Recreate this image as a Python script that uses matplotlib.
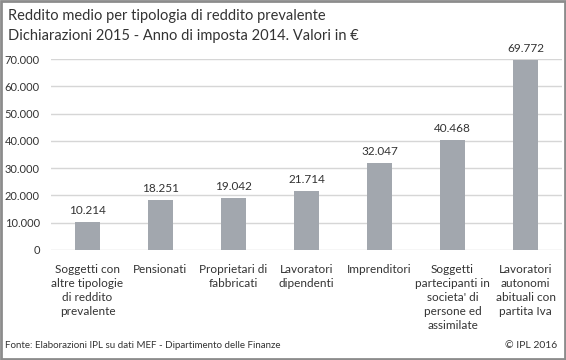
import matplotlib.pyplot as plt
from matplotlib.patches import Rectangle

categorie = [
    "Soggetti con\naltre tipologie\ndi reddito\nprevalente",
    "Pensionati",
    "Proprietari di\nfabbricati",
    "Lavoratori\ndipendenti",
    "Imprenditori",
    "Soggetti\npartecipanti in\nsocieta' di\npersone ed\nassimilate",
    "Lavoratori\nautonomi\nabituali con\npartita Iva",
]
valori = [10214, 18251, 19042, 21714, 32047, 40468, 69772]
yticks = [0, 10000, 20000, 30000, 40000, 50000, 60000, 70000]

plt.rcParams['font.family'] = ['Lato', 'DejaVu Sans']
testo = '#333333'

fig = plt.figure(figsize=(5.66, 3.6), dpi=100)
ax = fig.add_axes([51 / 566, 1 - 250 / 360, 511 / 566, (250 - 59) / 360])

x = range(len(valori))
ax.bar(x, valori, width=0.34, color='#a2a7ae', zorder=2)
for i, v in zip(x, valori):
    ax.text(i, v + 2200, f"{v:,}".replace(",", "."), ha='center', va='bottom',
            fontsize=8.5, color=testo)

ax.set_xlim(-0.5, len(valori) - 0.5)
ax.set_ylim(0, 70000)
ax.set_yticks(yticks)
ax.set_yticklabels([f"{t:,}".replace(",", ".") for t in yticks], fontsize=8, color=testo)
ax.set_xticks(list(x))
ax.set_xticklabels(categorie, fontsize=8.5, color=testo, va='top', linespacing=1.35)
ax.tick_params(axis='both', length=0)
ax.tick_params(axis='y', pad=8)
ax.tick_params(axis='x', pad=10)
ax.grid(axis='y', color='#d6d6d6', linewidth=1, zorder=0)
for s in ax.spines.values():
    s.set_visible(False)

fig.text(8 / 566, 1 - 16 / 360, "Reddito medio per tipologia di reddito prevalente",
         fontsize=10.5, color=testo, va='center')
fig.text(8 / 566, 1 - 36 / 360, "Dichiarazioni 2015 - Anno di imposta 2014. Valori in \u20ac",
         fontsize=10.5, color=testo, va='center')
fig.text(5 / 566, 1 - 345 / 360, "Fonte: Elaborazioni IPL su dati MEF - Dipartimento delle Finanze",
         fontsize=7, color=testo, va='center')
fig.text(557 / 566, 1 - 345 / 360, "\u00a9 IPL 2016", fontsize=7.5, color=testo,
         va='center', ha='right')

fig.patches.append(Rectangle((0.002, 0.003), 0.996, 0.994, transform=fig.transFigure,
                             fill=False, edgecolor='#8c8c8c', linewidth=2))

fig.savefig('out.png', dpi=100)
